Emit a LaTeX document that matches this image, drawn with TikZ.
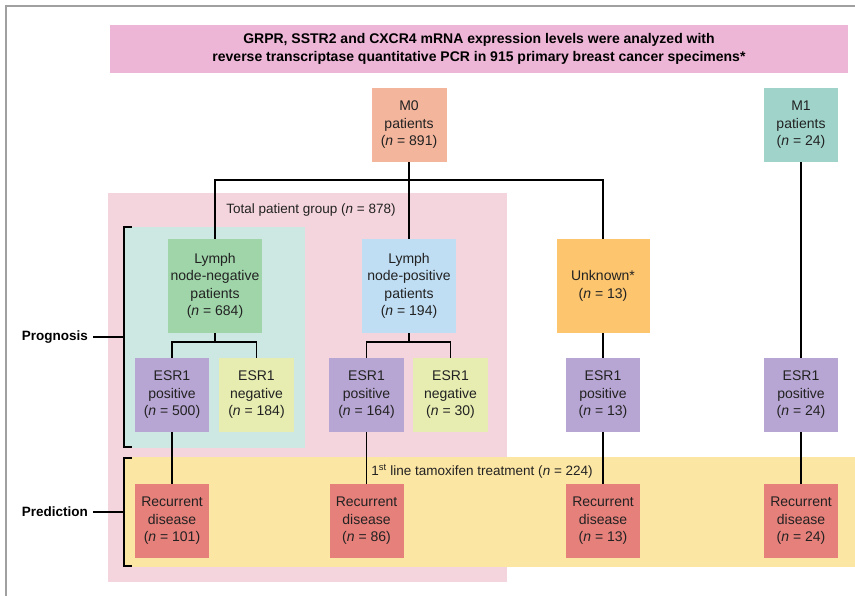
\documentclass[tikz,border=0pt]{standalone}
\usepackage{fontspec}
\setmainfont{Liberation Sans}
\definecolor{cBanner}{HTML}{EDB6D6}
\definecolor{cMzero}{HTML}{F3B59C}
\definecolor{cMone}{HTML}{A0D4CB}
\definecolor{cTotal}{HTML}{F5D5DD}
\definecolor{cTealbg}{HTML}{CDE7E2}
\definecolor{cLNN}{HTML}{9FD5A9}
\definecolor{cLNP}{HTML}{BFDDF3}
\definecolor{cUnk}{HTML}{FCC56E}
\definecolor{cPos}{HTML}{B7A6D3}
\definecolor{cNeg}{HTML}{E7EDB1}
\definecolor{cTam}{HTML}{FCE6A4}
\definecolor{cRec}{HTML}{E6807A}
\definecolor{cFrame}{HTML}{A0A0A0}
\definecolor{cText}{HTML}{222222}
\begin{document}
\begin{tikzpicture}[x=1pt,y=-1pt,
  boxnode/.style={rectangle,draw=none,align=center,inner sep=0pt,text=cText,
    font=\fontsize{14}{17.5}\selectfont},
  sqbox/.style={boxnode,minimum width=74pt,minimum height=74pt},
  bigbox/.style={boxnode,minimum width=94pt,minimum height=94pt},
  conn/.style={line width=1.5pt,black},
  brk/.style={line width=1.5pt,black},
  sidelabel/.style={font=\bfseries\fontsize{13.5}{17}\selectfont,anchor=east,inner sep=0pt}]
\useasboundingbox (0,0) rectangle (855,596);
% frame
\draw[cFrame,line width=1.5pt] (6,596) -- (6,6) -- (855,6);
% background regions
\fill[cTotal] (108,193) rectangle (507,582);
\fill[cTealbg] (125,227) rectangle (305,448);
\fill[cTam] (125,457) rectangle (855,567);
% banner
\node[boxnode,fill=cBanner,minimum width=738pt,minimum height=48pt,
  font=\bfseries\fontsize{14}{18.5}\selectfont,text=black] (banner) at (479,49)
  {GRPR, SSTR2 and CXCR4 mRNA expression levels were analyzed with\\
   reverse transcriptase quantitative PCR in 915 primary breast cancer specimens*};
% top level
\node[sqbox,fill=cMzero,minimum width=75pt] (M0) at (409,125) {M0\\patients\\(\textit{n} = 891)};
\node[sqbox,fill=cMone] (M1) at (801,125) {M1\\patients\\(\textit{n} = 24)};
\node[font=\fontsize{13.5}{17}\selectfont,text=cText,inner sep=0pt] (total) at (311,210) {Total patient group (\textit{n} = 878)};
% second level
\node[bigbox,fill=cLNN] (LNN) at (215,286) {Lymph\\node-negative\\patients\\(\textit{n} = 684)};
\node[bigbox,fill=cLNP] (LNP) at (409,286) {Lymph\\node-positive\\patients\\(\textit{n} = 194)};
\node[bigbox,fill=cUnk,minimum width=93pt] (Unk) at (603,286) {Unknown*\\(\textit{n} = 13)};
% ESR1 level
\node[sqbox,fill=cPos] (E500) at (172,395) {ESR1\\positive\\(\textit{n} = 500)};
\node[sqbox,fill=cNeg,minimum width=75pt] (E184) at (256.5,395) {ESR1\\negative\\(\textit{n} = 184)};
\node[sqbox,fill=cPos,minimum width=75pt] (E164) at (366.5,395) {ESR1\\positive\\(\textit{n} = 164)};
\node[sqbox,fill=cNeg,minimum width=75pt] (E30) at (450.5,395) {ESR1\\negative\\(\textit{n} = 30)};
\node[sqbox,fill=cPos] (E13) at (603,395) {ESR1\\positive\\(\textit{n} = 13)};
\node[sqbox,fill=cPos] (E24) at (801,395) {ESR1\\positive\\(\textit{n} = 24)};
% tamoxifen label
\node[font=\fontsize{13.5}{17}\selectfont,text=cText,inner sep=0pt] (tam) at (482,471) {1\textsuperscript{st} line tamoxifen treatment (\textit{n} = 224)};
% recurrent
\node[sqbox,fill=cRec] (R101) at (172,521) {Recurrent\\disease\\(\textit{n} = 101)};
\node[sqbox,fill=cRec] (R86) at (366.5,521) {Recurrent\\disease\\(\textit{n} = 86)};
\node[sqbox,fill=cRec] (R13) at (603,521) {Recurrent\\disease\\(\textit{n} = 13)};
\node[sqbox,fill=cRec] (R24) at (801,521) {Recurrent\\disease\\(\textit{n} = 24)};
% connectors
\coordinate (j0) at (409,180);
\draw[conn] (M0.south) -- (LNP.north);
\draw[conn] (LNN.north) -- (LNN.north |- j0) -- (Unk.north |- j0) -- (Unk.north);
\coordinate (j1) at (215,342);
\draw[conn] (LNN.south) -- (j1);
\draw[conn] (E500.north) -- (E500.north |- j1) -- (E184.north |- j1) -- (E184.north);
\coordinate (j2) at (409,342);
\draw[conn] (LNP.south) -- (j2);
\draw[conn] (E164.north) -- (E164.north |- j2) -- (E30.north |- j2) -- (E30.north);
\draw[conn] (Unk.south) -- (E13.north);
\draw[conn] (M1.south) -- (E24.north);
\draw[conn] (E500.south) -- (R101.north);
\draw[conn] (E164.south) -- (R86.north);
\draw[conn] (E13.south) -- (R13.north);
\draw[conn] (E24.south) -- (R24.north);
% brackets
\coordinate (pgTop) at (124,227);
\coordinate (pgBot) at (124,447);
\coordinate (pgMid) at (124,337);
\coordinate (pdTop) at (124,458);
\coordinate (pdBot) at (124,566);
\coordinate (pdMid) at (124,512);
\draw[brk] ([xshift=8pt]pgTop) -- (pgTop) -- (pgBot) -- ([xshift=8pt]pgBot);
\draw[brk] ([xshift=8pt]pdTop) -- (pdTop) -- (pdBot) -- ([xshift=8pt]pdBot);
\node[sidelabel] (prog) at (88,337) {Prognosis};
\node[sidelabel] (pred) at (88,512) {Prediction};
\draw[brk] ([xshift=5pt]prog.east) -- (pgMid);
\draw[brk] ([xshift=5pt]pred.east) -- (pdMid);
\end{tikzpicture}
\end{document}
